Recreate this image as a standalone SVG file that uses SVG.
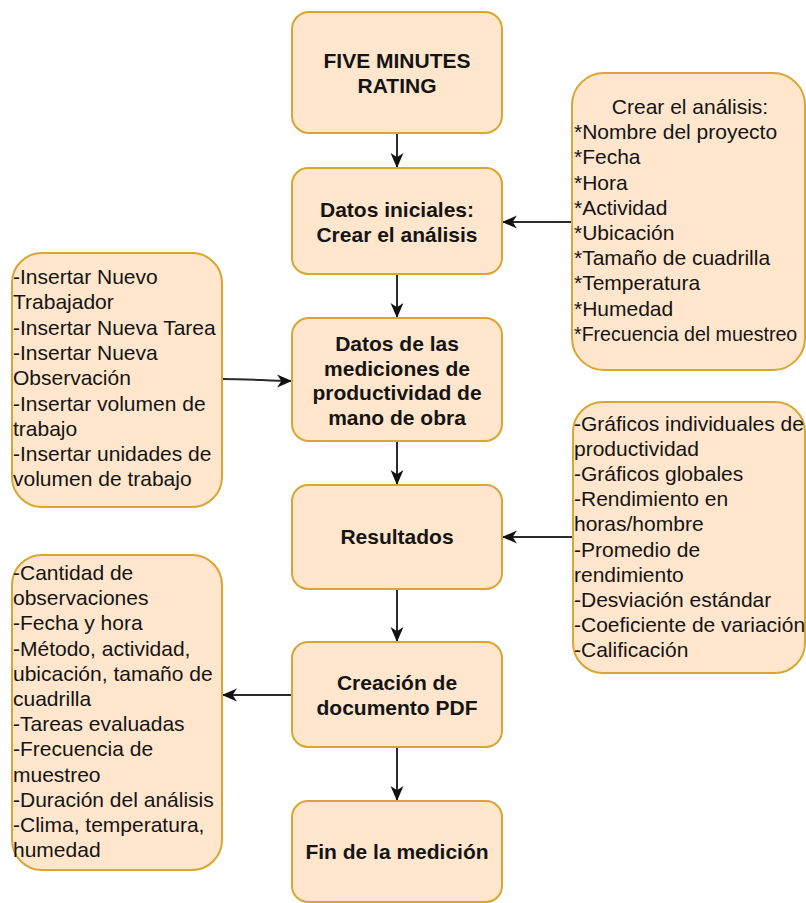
<svg xmlns="http://www.w3.org/2000/svg" width="806" height="903" viewBox="0 0 806 903">
  <defs>
    <style>
      .box { fill: #ffe6cc; stroke: #d8a631; stroke-width: 2; }
      .title { font-family: "Liberation Sans", Arial, sans-serif; font-size: 21px; font-weight: bold; fill: #141414; text-anchor: middle; }
      .list { font-family: "Liberation Sans", Arial, sans-serif; font-size: 21px; fill: #141414; }
      .link { fill: none; stroke: #2b2b2b; stroke-width: 2; }
    </style>
    <marker id="arrow" viewBox="0 0 14 14" refX="13" refY="7" markerWidth="15" markerHeight="15" markerUnits="userSpaceOnUse" orient="auto">
      <path d="M0,1 L14,7 L0,13 L4,7 Z" fill="#111111"/>
    </marker>
  </defs>
  <rect width="806" height="903" fill="#ffffff"/>

  <!-- connectors -->
  <g id="connectors">
    <line class="link" x1="397" y1="133" x2="397" y2="167" marker-end="url(#arrow)"/>
    <line class="link" x1="397" y1="274" x2="397" y2="317" marker-end="url(#arrow)"/>
    <line class="link" x1="397" y1="441" x2="397" y2="484" marker-end="url(#arrow)"/>
    <line class="link" x1="397" y1="589" x2="397" y2="641" marker-end="url(#arrow)"/>
    <line class="link" x1="397" y1="747" x2="397" y2="800" marker-end="url(#arrow)"/>
    <line class="link" x1="572" y1="222" x2="503" y2="222" marker-end="url(#arrow)"/>
    <path class="link" d="M222,379 C250,379 270,381 291,381" marker-end="url(#arrow)"/>
    <line class="link" x1="573" y1="537" x2="503" y2="537" marker-end="url(#arrow)"/>
    <line class="link" x1="292" y1="695" x2="223" y2="695" marker-end="url(#arrow)"/>
  </g>

  <!-- main flow -->
  <g id="five-minutes-rating">
    <rect class="box" x="292" y="12" width="210" height="121" rx="17"/>
    <text class="title" x="397" y="68">FIVE MINUTES</text>
    <text class="title" x="397" y="93">RATING</text>
  </g>
  <g id="datos-iniciales">
    <rect class="box" x="292" y="168" width="210" height="106" rx="16"/>
    <text class="title" x="397" y="217">Datos iniciales:</text>
    <text class="title" x="397" y="242">Crear el análisis</text>
  </g>
  <g id="datos-mediciones">
    <rect class="box" x="292" y="318" width="210" height="123" rx="17"/>
    <text class="title" x="397" y="351">Datos de las</text>
    <text class="title" x="397" y="375.5">mediciones de</text>
    <text class="title" x="397" y="400">productividad de</text>
    <text class="title" x="397" y="424.5">mano de obra</text>
  </g>
  <g id="resultados">
    <rect class="box" x="292" y="485" width="210" height="104" rx="16"/>
    <text class="title" x="397" y="544">Resultados</text>
  </g>
  <g id="creacion-pdf">
    <rect class="box" x="292" y="642" width="210" height="105" rx="16"/>
    <text class="title" x="397" y="690">Creación de</text>
    <text class="title" x="397" y="715">documento PDF</text>
  </g>
  <g id="fin-medicion">
    <rect class="box" x="292" y="801" width="210" height="101" rx="16"/>
    <text class="title" x="397" y="859">Fin de la medición</text>
  </g>

  <!-- side notes -->
  <g id="crear-analisis">
    <rect class="box" x="572" y="73" width="233" height="297" rx="32"/>
    <text class="list" x="690" y="114" text-anchor="middle">Crear el análisis:</text>
    <text class="list" x="574" y="139.2">*Nombre del proyecto</text>
    <text class="list" x="574" y="164.4">*Fecha</text>
    <text class="list" x="574" y="189.6">*Hora</text>
    <text class="list" x="574" y="214.8">*Actividad</text>
    <text class="list" x="574" y="240">*Ubicación</text>
    <text class="list" x="574" y="265.2">*Tamaño de cuadrilla</text>
    <text class="list" x="574" y="290.4">*Temperatura</text>
    <text class="list" x="574" y="315.6">*Humedad</text>
    <text class="list" x="574" y="340.8" style="font-size:19.6px">*Frecuencia del muestreo</text>
  </g>
  <g id="insertar-datos">
    <rect class="box" x="12" y="253" width="210" height="254" rx="30"/>
    <text class="list" x="13" y="284">-Insertar Nuevo</text>
    <text class="list" x="13" y="309.3">Trabajador</text>
    <text class="list" x="13" y="334.6">-Insertar Nueva Tarea</text>
    <text class="list" x="13" y="359.9">-Insertar Nueva</text>
    <text class="list" x="13" y="385.2">Observación</text>
    <text class="list" x="13" y="410.5">-Insertar volumen de</text>
    <text class="list" x="13" y="435.8">trabajo</text>
    <text class="list" x="13" y="461.1">-Insertar unidades de</text>
    <text class="list" x="13" y="486.4">volumen de trabajo</text>
  </g>
  <g id="graficos">
    <rect class="box" x="573" y="402" width="232" height="271" rx="30"/>
    <text class="list" x="574" y="431">-Gráficos individuales de</text>
    <text class="list" x="574" y="456.1">productividad</text>
    <text class="list" x="574" y="481.2">-Gráficos globales</text>
    <text class="list" x="574" y="506.3">-Rendimiento en</text>
    <text class="list" x="574" y="531.4">horas/hombre</text>
    <text class="list" x="574" y="556.5">-Promedio de</text>
    <text class="list" x="574" y="581.6">rendimiento</text>
    <text class="list" x="574" y="606.7">-Desviación estándar</text>
    <text class="list" x="574" y="631.8">-Coeficiente de variación</text>
    <text class="list" x="574" y="656.9">-Calificación</text>
  </g>
  <g id="contenido-pdf">
    <rect class="box" x="12" y="555" width="210" height="315" rx="30"/>
    <text class="list" x="13" y="580">-Cantidad de</text>
    <text class="list" x="13" y="605.2">observaciones</text>
    <text class="list" x="13" y="630.4">-Fecha y hora</text>
    <text class="list" x="13" y="655.6">-Método, actividad,</text>
    <text class="list" x="13" y="680.8">ubicación, tamaño de</text>
    <text class="list" x="13" y="706">cuadrilla</text>
    <text class="list" x="13" y="731.2">-Tareas evaluadas</text>
    <text class="list" x="13" y="756.4">-Frecuencia de</text>
    <text class="list" x="13" y="781.6">muestreo</text>
    <text class="list" x="13" y="806.8">-Duración del análisis</text>
    <text class="list" x="13" y="832">-Clima, temperatura,</text>
    <text class="list" x="13" y="857.2">humedad</text>
  </g>
</svg>
